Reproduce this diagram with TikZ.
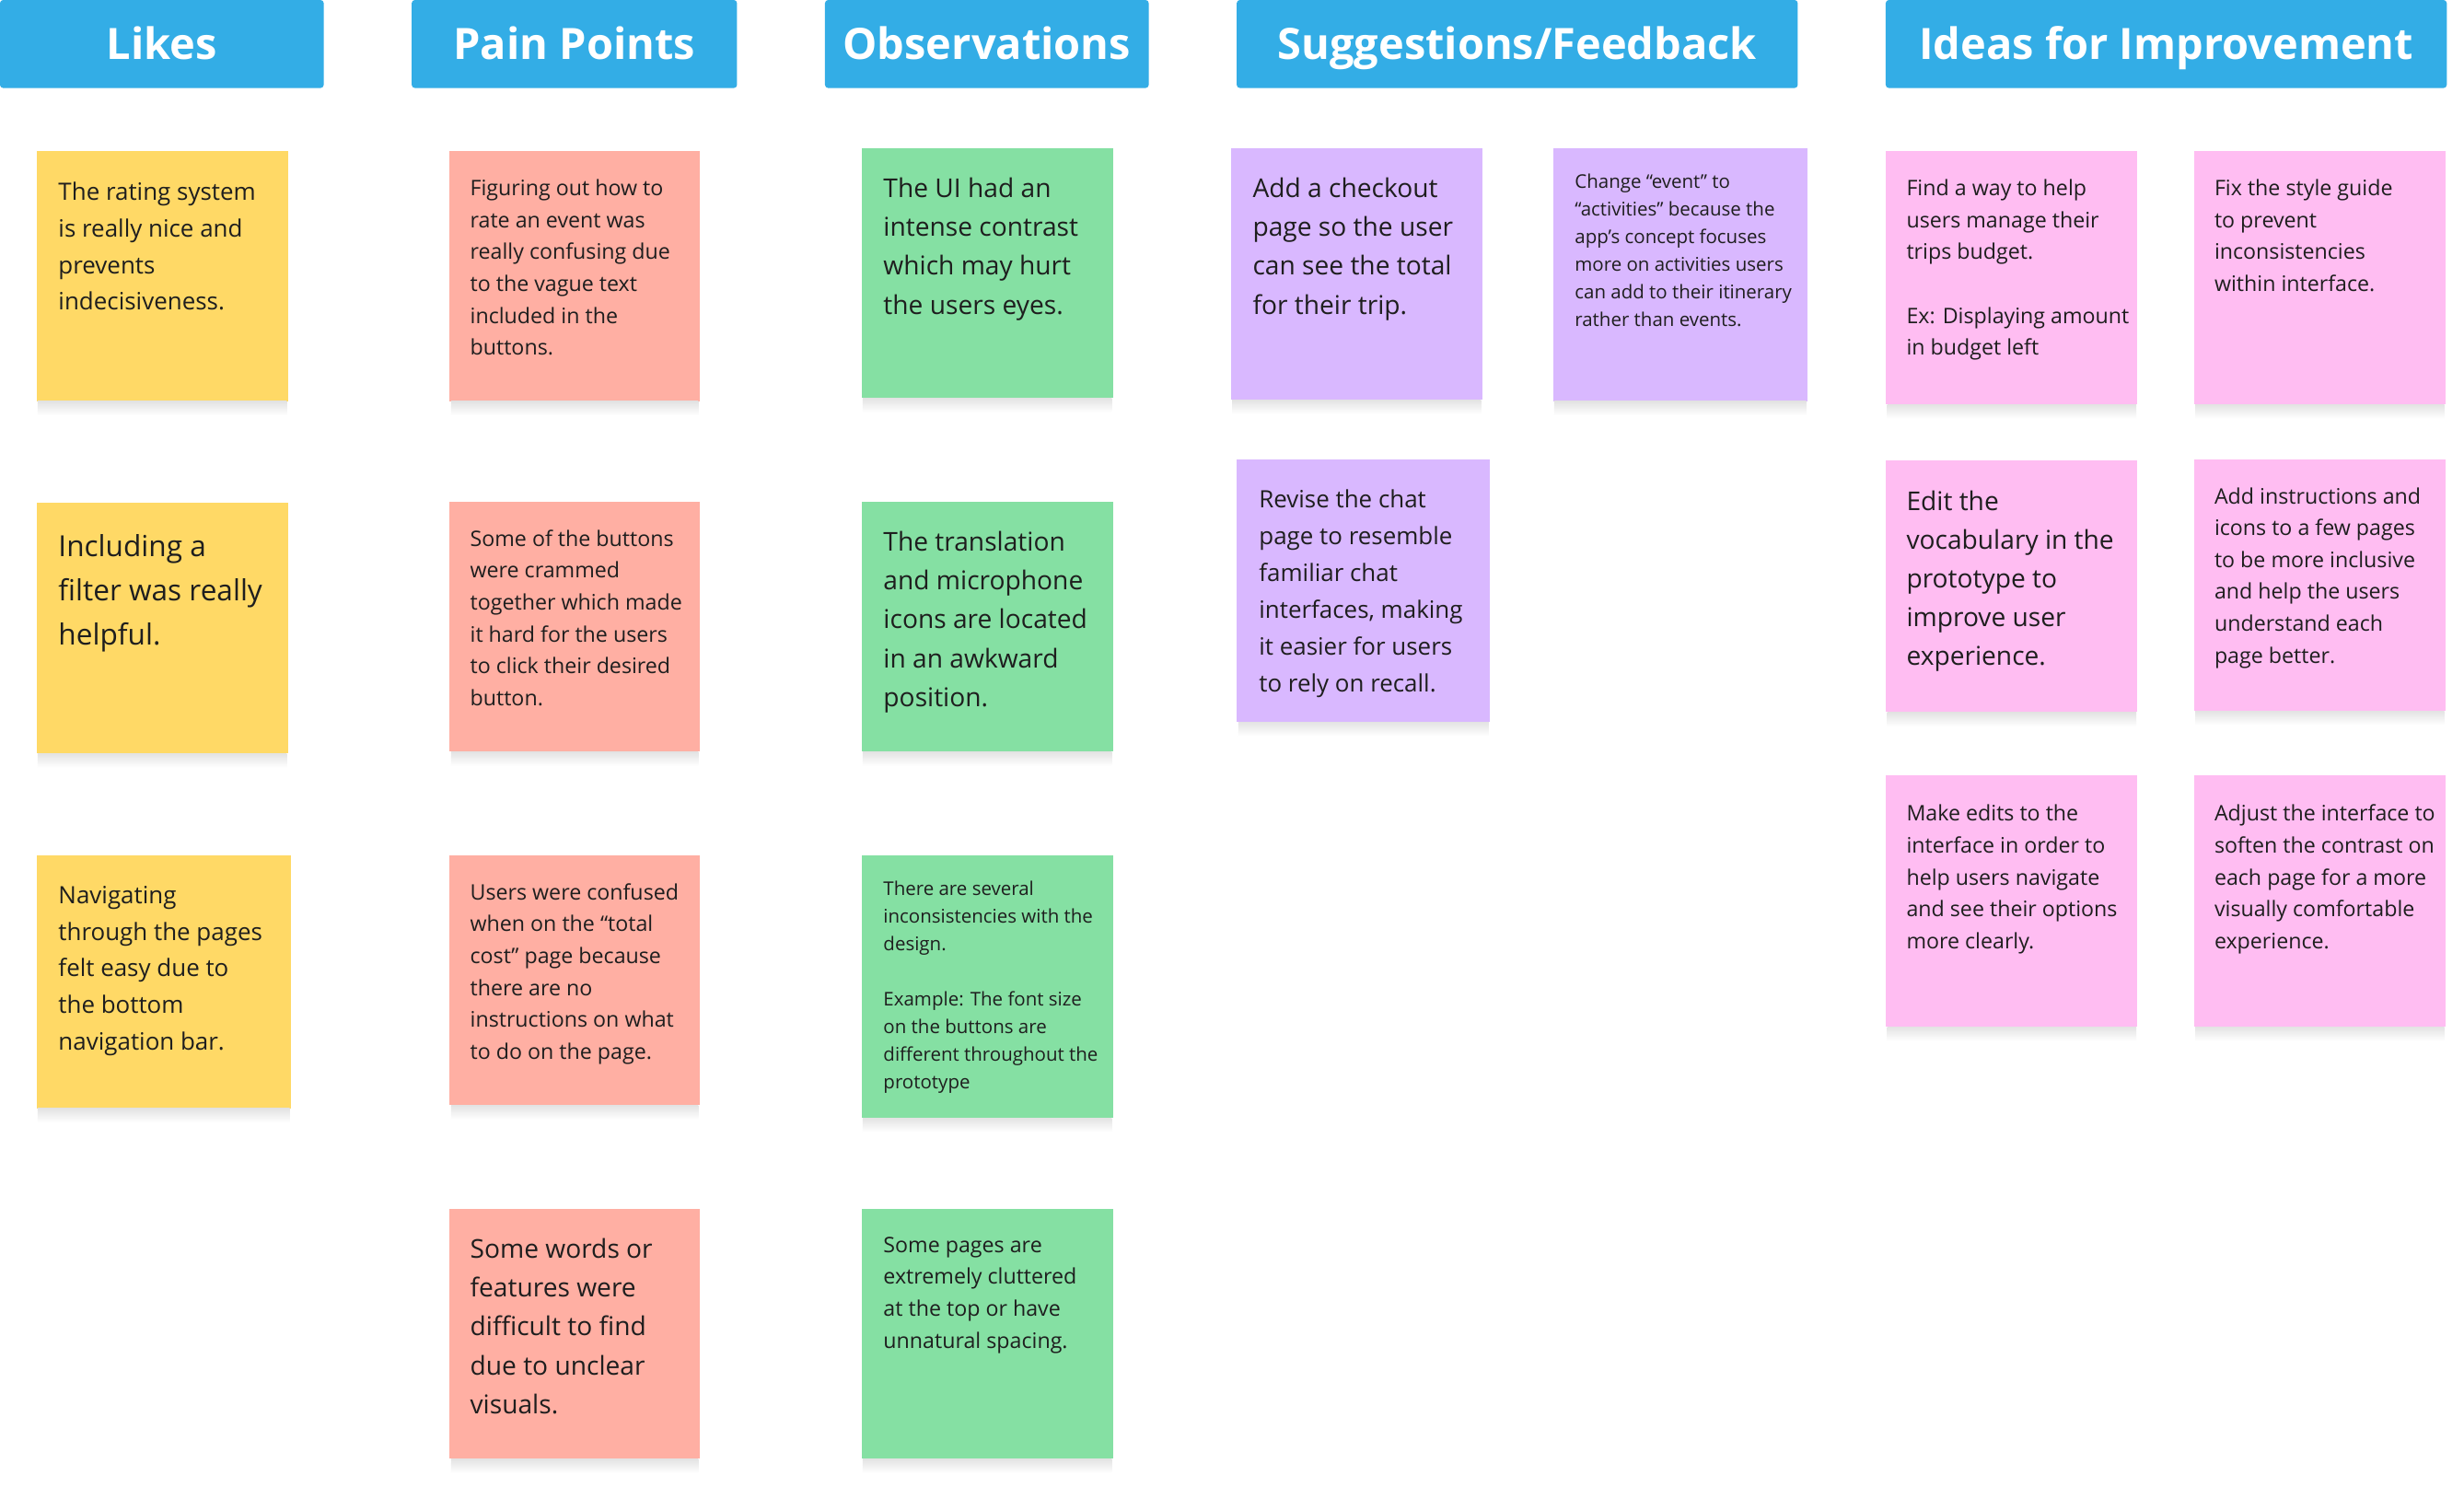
\documentclass[tikz,border=0pt]{standalone}
\usepackage{fontspec}
\setmainfont{Open Sans}
\usepackage{tikz}
\usetikzlibrary{positioning}
\definecolor{headblue}{RGB}{51,173,230}
\definecolor{likeyellow}{RGB}{255,217,102}
\definecolor{painred}{RGB}{255,175,163}
\definecolor{obsgreen}{RGB}{133,224,163}
\definecolor{sugviolet}{RGB}{217,184,255}
\definecolor{ideapink}{RGB}{255,189,242}
\definecolor{inkgray}{RGB}{30,30,30}
\tikzset{
    Header/.style = {rectangle, rounded corners=2pt, fill=headblue, text=white, inner sep=0pt,
        minimum height=56pt, text height=24pt, text depth=4pt, font=\fontsize{27.5}{30}\selectfont\bfseries}
}
\tikzset{
    Sticky/.style = {rectangle, anchor=north west, inner sep=0pt, minimum width=160pt, minimum height=159pt}
}
\tikzset{
    Shadow/.style = {top color=black!11, bottom color=white, draw=none}
}
\tikzset{
    Note/.style = {align=left, inner sep=0pt, text=inkgray}
}
\tikzset{
    FontXL/.style = {font=\fontsize{18.5}{28}\selectfont},
    FontL/.style = {font=\fontsize{16.5}{24.7}\selectfont},
    FontM/.style = {font=\fontsize{15.2}{23.4}\selectfont},
    FontS/.style = {font=\fontsize{13.6}{20.3}\selectfont},
    FontXS/.style = {font=\fontsize{12}{17.6}\selectfont}
}

\begin{document}
\begin{tikzpicture}[
    x=1pt, y=-1pt
]
\useasboundingbox (0,0) rectangle (1568,946);
\fill[white] (0,0) rectangle (1568,946);

\node[Header, minimum width=206pt] (likes) at (103,28) {Likes};
\node[Header, minimum width=207pt] (pain) at (365.5,28) {Pain Points};
\node[Header, minimum width=206pt] (obs) at (628,28) {Observations};
\node[Header, minimum width=357pt] (sug) at (965.5,28) {Suggestions/Feedback};
\node[Header, minimum width=357pt] (ideas) at (1378.5,28) {Ideas for Improvement};

\node[Sticky, fill=likeyellow] (l1) at (23,96) {};
\node[Sticky, fill=likeyellow] (l2) at (23,320) {};
\node[Sticky, fill=likeyellow, minimum width=162pt, minimum height=161pt] (l3) at (23,544) {};
\node[Note, FontM, below right=19.5pt and 14pt of l1.north west] (l1t) {The rating system\\is really nice and\\prevents\\indecisiveness.};
\node[Note, FontXL, below right=20pt and 14pt of l2.north west] (l2t) {Including a\\filter was really\\helpful.};
\node[Note, FontM, below right=19.5pt and 14pt of l3.north west] (l3t) {Navigating\\through the pages\\felt easy due to\\the bottom\\navigation bar.};

\node[Sticky, fill=painred, minimum width=159pt] (p1) at (286,96) {};
\node[Sticky, fill=painred, minimum width=159pt] (p2) at (286,319) {};
\node[Sticky, fill=painred, minimum width=159pt] (p3) at (286,544) {};
\node[Sticky, fill=painred, minimum width=159pt] (p4) at (286,769) {};
\node[Note, FontS, below right=18pt and 13pt of p1.north west] (p1t) {Figuring out how to\\rate an event was\\really confusing due\\to the vague text\\included in the\\buttons.};
\node[Note, FontS, below right=18pt and 13pt of p2.north west] (p2t) {Some of the buttons\\were crammed\\together which made\\it hard for the users\\to click their desired\\button.};
\node[Note, FontS, below right=18pt and 13pt of p3.north west] (p3t) {Users were confused\\when on the “total\\cost” page because\\there are no\\instructions on what\\to do on the page.};
\node[Note, FontL, below right=19pt and 13pt of p4.north west] (p4t) {Some words or\\features were\\difficult to find\\due to unclear\\visuals.};

\node[Sticky, fill=obsgreen] (o1) at (548,94) {};
\node[Sticky, fill=obsgreen] (o2) at (548,319) {};
\node[Sticky, fill=obsgreen, minimum height=167pt] (o3) at (548,544) {};
\node[Sticky, fill=obsgreen] (o4) at (548,769) {};
\node[Note, FontL, below right=19pt and 14pt of o1.north west] (o1t) {The UI had an\\intense contrast\\which may hurt\\the users eyes.};
\node[Note, FontL, below right=19pt and 14pt of o2.north west] (o2t) {The translation\\and microphone\\icons are located\\in an awkward\\position.};
\node[Note, FontXS, below right=16.5pt and 14pt of o3.north west] (o3t) {There are several\\inconsistencies with the\\design.\\~\\Example: The font size\\on the buttons are\\different throughout the\\prototype};
\node[Note, FontS, below right=18pt and 14pt of o4.north west] (o4t) {Some pages are\\extremely cluttered\\at the top or have\\unnatural spacing.};

\node[Sticky, fill=sugviolet, minimum height=160pt] (s1) at (783,94) {};
\node[Sticky, fill=sugviolet, minimum width=162pt, minimum height=161pt] (s2) at (988,94) {};
\node[Sticky, fill=sugviolet, minimum width=161pt, minimum height=167pt] (s3) at (787,292) {};
\node[Note, FontL, below right=19pt and 14pt of s1.north west] (s1t) {Add a checkout\\page so the user\\can see the total\\for their trip.};
\node[Note, FontXS, below right=16.5pt and 14pt of s2.north west] (s2t) {Change “event” to\\“activities” because the\\app’s concept focuses\\more on activities users\\can add to their itinerary\\rather than events.};
\node[Note, FontM, below right=19.5pt and 14pt of s3.north west] (s3t) {Revise the chat\\page to resemble\\familiar chat\\interfaces, making\\it easier for users\\to rely on recall.};

\node[Sticky, fill=ideapink, minimum height=161pt] (i1) at (1200,96) {};
\node[Sticky, fill=ideapink, minimum height=161pt] (i2) at (1396,96) {};
\node[Sticky, fill=ideapink, minimum height=160pt] (i3) at (1200,293) {};
\node[Sticky, fill=ideapink, minimum height=160pt] (i4) at (1396,292) {};
\node[Sticky, fill=ideapink, minimum height=160pt] (i5) at (1200,493) {};
\node[Sticky, fill=ideapink, minimum height=160pt] (i6) at (1396,493) {};
\node[Note, FontS, below right=18pt and 13pt of i1.north west] (i1t) {Find a way to help\\users manage their\\trips budget.\\~\\Ex: Displaying amount\\in budget left};
\node[Note, FontS, below right=18pt and 13pt of i2.north west] (i2t) {Fix the style guide\\to prevent\\inconsistencies\\within interface.};
\node[Note, FontL, below right=19pt and 13pt of i3.north west] (i3t) {Edit the\\vocabulary in the\\prototype to\\improve user\\experience.};
\node[Note, FontS, below right=18pt and 13pt of i4.north west] (i4t) {Add instructions and\\icons to a few pages\\to be more inclusive\\and help the users\\understand each\\page better.};
\node[Note, FontS, below right=19pt and 13pt of i5.north west] (i5t) {Make edits to the\\interface in order to\\help users navigate\\and see their options\\more clearly.};
\node[Note, FontS, below right=19pt and 13pt of i6.north west] (i6t) {Adjust the interface to\\soften the contrast on\\each page for a more\\visually comfortable\\experience.};

\foreach \n in {l1,l2,l3,p1,p2,p3,p4,o1,o2,o3,o4,s1,s2,s3,i1,i2,i3,i4,i5,i6}
    \shade[Shadow] ([xshift=1pt]\n.south west) rectangle ([xshift=-1pt,yshift=-9pt]\n.south east);
\end{tikzpicture}
\end{document}
